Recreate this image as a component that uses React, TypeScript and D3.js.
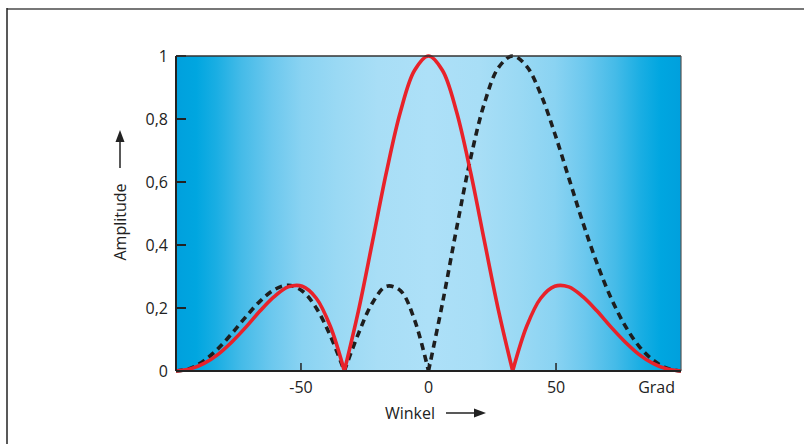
import React from "react";
import * as d3 from "d3";

// Angle in axis units (Grad as labelled) and amplitude values
const angles = [-99, -93.5, -88, -82.5, -77, -71.5, -66, -60.5, -55, -49.5, -44, -38.5, -33, -27.5, -22, -16.5, -11, -5.5, 0, 5.5, 11, 16.5, 22, 27.5, 33, 38.5, 44, 49.5, 55, 60.5, 66, 71.5, 77, 82.5, 88, 93.5, 99];

const redValues = [0, 0.006, 0.024, 0.053, 0.093, 0.14, 0.191, 0.236, 0.267, 0.269, 0.231, 0.142, 0, 0.19, 0.409, 0.631, 0.823, 0.954, 1, 0.954, 0.823, 0.631, 0.409, 0.19, 0, 0.142, 0.231, 0.269, 0.267, 0.236, 0.191, 0.14, 0.093, 0.053, 0.024, 0.006, 0];

const blackValues = [0, 0.008, 0.033, 0.071, 0.12, 0.173, 0.222, 0.258, 0.272, 0.254, 0.2, 0.112, 0, 0.118, 0.216, 0.269, 0.255, 0.163, 0, 0.216, 0.452, 0.675, 0.852, 0.964, 1, 0.967, 0.879, 0.754, 0.613, 0.472, 0.343, 0.233, 0.145, 0.079, 0.035, 0.009, 0];

const xTicks = [-50, 0, 50];
const xTickLabels = ["-50", "0", "50"];
const yTicks = [0, 0.2, 0.4, 0.6, 0.8, 1];
const yTickLabels = ["0", "0,2", "0,4", "0,6", "0,8", "1"];

const W = 804;
const H = 444;
const L = 176, R = 681, T = 56, B = 371;
const FONT = "'Open Sans', 'Noto Sans', sans-serif";

function segments(values: number[]) {
  // split the series at its nulls so each lobe is drawn with a sharp cusp
  const pts = angles.map((a, i) => [a, values[i]] as [number, number]);
  const segs: [number, number][][] = [];
  let cur: [number, number][] = [];
  pts.forEach((p, i) => {
    cur.push(p);
    if (p[1] === 0 && i > 0 && i < pts.length - 1) {
      segs.push(cur);
      cur = [p];
    }
  });
  segs.push(cur);
  return segs;
}

export default function App() {
  const x = d3.scaleLinear().domain([-99, 99]).range([L, R]);
  const y = d3.scaleLinear().domain([0, 1]).range([B, T]);
  const line = d3
    .line<[number, number]>()
    .x((d) => x(d[0]))
    .y((d) => y(d[1]))
    .curve(d3.curveCatmullRom.alpha(0.5));

  const redPath = segments(redValues).map((s) => line(s)).join("");
  const blackPath = segments(blackValues).map((s) => line(s)).join("");

  const stops = [
    [0, "#00a0dd"], [0.04, "#00a6e0"], [0.08, "#1aaee3"], [0.13, "#45bbe8"],
    [0.19, "#6cc8ee"], [0.25, "#8ad3f2"], [0.32, "#9ad9f4"], [0.4, "#a8def6"],
    [0.5, "#ade0f8"], [0.6, "#a8def6"], [0.68, "#9ad9f4"], [0.75, "#8ad3f2"],
    [0.81, "#6cc8ee"], [0.87, "#45bbe8"], [0.92, "#1aaee3"], [0.96, "#00a6e0"], [1, "#00a0dd"],
  ];

  return (
    <svg width={W} height={H} style={{ position: "absolute", left: 0, top: 0, background: "#fff" }}>
      <defs>
        <linearGradient id="bg" x1="0" x2="1" y1="0" y2="0">
          {stops.map(([o, c], i) => (
            <stop key={i} offset={o as number} stopColor={c as string} />
          ))}
        </linearGradient>
        <clipPath id="clip">
          <rect x={L - 2} y={T - 4} width={R - L + 4} height={B - T + 6} />
        </clipPath>
      </defs>
      {/* outer frame */}
      <line x1={7} x2={W} y1={9} y2={9} stroke="#777" strokeWidth={2} />
      <line x1={7} x2={7} y1={8} y2={H} stroke="#222" strokeWidth={1.5} />

      <rect x={L} y={T} width={R - L} height={B - T} fill="url(#bg)" />

      {/* ticks */}
      {yTicks.map((t) => (
        <line key={t} x1={L} x2={L + 10} y1={y(t)} y2={y(t)} stroke="#222" strokeWidth={2} />
      ))}
      {xTicks.map((t) => (
        <line key={t} x1={x(t)} x2={x(t)} y1={B} y2={B - 8} stroke="#222" strokeWidth={1.5} />
      ))}

      <g clipPath="url(#clip)">
        <path d={blackPath} fill="none" stroke="#1e1e1e" strokeWidth={3.6} strokeDasharray="7 5" />
        <path d={redPath} fill="none" stroke="#e8222a" strokeWidth={3.6} strokeLinejoin="round" />
      </g>

      {/* plot border */}
      <line x1={L} x2={R} y1={T} y2={T} stroke="#333" strokeWidth={1.5} />
      <line x1={R} x2={R} y1={T} y2={B} stroke="#555" strokeWidth={1.2} />
      <line x1={L} x2={L} y1={T} y2={B} stroke="#222" strokeWidth={2} />
      <line x1={L} x2={R} y1={B} y2={B} stroke="#222" strokeWidth={2} />

      {/* y labels */}
      {yTicks.map((t, i) => (
        <text key={t} x={L - 8} y={y(t)} dy="0.36em" textAnchor="end" fontFamily={FONT} fontSize={16} fill="#222">
          {yTickLabels[i]}
        </text>
      ))}
      {/* x labels */}
      {xTicks.map((t, i) => (
        <text key={t} x={x(t)} y={B + 22} textAnchor="middle" fontFamily={FONT} fontSize={16} fill="#222">
          {xTickLabels[i]}
        </text>
      ))}
      <text x={R - 6} y={B + 22} textAnchor="end" fontFamily={FONT} fontSize={16} fill="#222">Grad</text>

      {/* x title */}
      <text x={410} y={419} textAnchor="middle" fontFamily={FONT} fontSize={16} fill="#222">Winkel</text>
      <line x1={446} x2={478} y1={413} y2={413} stroke="#222" strokeWidth={1.5} />
      <path d="M486,413 L474,408.5 L474,417.5 Z" fill="#222" />

      {/* y title */}
      <text transform="translate(126,222) rotate(-90)" textAnchor="middle" fontFamily={FONT} fontSize={16} fill="#222">Amplitude</text>
      <line x1={120} x2={120} y1={168} y2={138} stroke="#222" strokeWidth={1.5} />
      <path d="M120,130 L115.5,142 L124.5,142 Z" fill="#222" />
    </svg>
  );
}
